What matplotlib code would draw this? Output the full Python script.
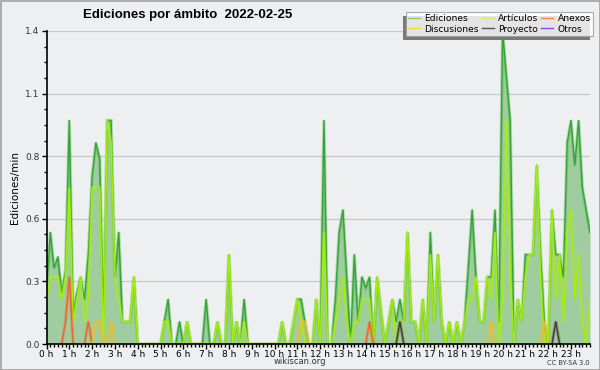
import numpy as np
import matplotlib
matplotlib.use("Agg")
import matplotlib.pyplot as plt
from matplotlib.lines import Line2D
from matplotlib.patches import Rectangle
from matplotlib.ticker import MultipleLocator

TITLE = "Ediciones por ámbito  2022-02-25"
HOUR_LABELS = [f"{h} h" for h in range(24)]

# edits per minute, 10-minute bins (144 per day)
ediciones = [
    0.23, 0.5, 0.34, 0.39, 0.23, 0.33, 1.0, 0.14, 0.23, 0.3, 0.2, 0.4,
    0.75, 0.9, 0.83, 0.12, 1.0, 1.0, 0.3, 0.5, 0.1, 0.1, 0.1, 0.3,
    0, 0, 0, 0, 0, 0, 0, 0.1, 0.2, 0, 0, 0.1,
    0, 0.1, 0, 0, 0, 0, 0.2, 0, 0, 0.1, 0, 0,
    0.4, 0, 0.1, 0, 0.2, 0, 0, 0, 0, 0, 0, 0,
    0, 0, 0.1, 0, 0, 0.1, 0.2, 0.2, 0.1, 0, 0, 0.2,
    0, 1.0, 0, 0, 0.2, 0.5, 0.6, 0.3, 0, 0.4, 0.1, 0.3,
    0.25, 0.3, 0, 0.3, 0.15, 0, 0.1, 0.2, 0.1, 0.2, 0.1, 0.5,
    0.1, 0.1, 0, 0.2, 0, 0.5, 0.1, 0.4, 0.1, 0, 0.1, 0,
    0.1, 0, 0.1, 0.35, 0.6, 0.3, 0.1, 0.1, 0.3, 0.3, 0.6, 0.1,
    1.4, 1.2, 1.0, 0, 0.2, 0.1, 0.4, 0.4, 0.4, 0.8, 0.4, 0.1,
    0, 0.6, 0.4, 0.4, 0.3, 0.9, 1.0, 0.8, 1.0, 0.7, 0.6, 0.5,
]
articulos = [
    0.2, 0.3, 0.3, 0.3, 0.2, 0.3, 0.7, 0.1, 0.2, 0.3, 0.1, 0.2,
    0.7, 0.7, 0.7, 0, 1.0, 0.9, 0.3, 0.2, 0.1, 0.1, 0.1, 0.3,
    0, 0, 0, 0, 0, 0, 0, 0.1, 0.1, 0, 0, 0,
    0, 0.1, 0, 0, 0, 0, 0, 0, 0, 0.1, 0, 0,
    0.4, 0, 0.1, 0, 0.1, 0, 0, 0, 0, 0, 0, 0,
    0, 0, 0.1, 0, 0, 0.1, 0.2, 0.1, 0, 0, 0, 0.2,
    0, 0.5, 0, 0, 0.1, 0.2, 0.3, 0.1, 0, 0.1, 0.1, 0.2,
    0.2, 0.2, 0, 0.3, 0.15, 0, 0.1, 0.2, 0, 0.1, 0.1, 0.5,
    0.1, 0.1, 0, 0.2, 0, 0.4, 0.1, 0.4, 0.1, 0, 0.1, 0,
    0.1, 0, 0.1, 0.2, 0.2, 0.3, 0.1, 0.1, 0.3, 0.2, 0.5, 0,
    0.2, 1.0, 0.3, 0, 0.2, 0.1, 0.3, 0.4, 0.4, 0.8, 0.3, 0,
    0, 0.6, 0.2, 0.4, 0.1, 0.5, 0.6, 0.2, 0.4, 0.1, 0, 0.2,
]
# sparse series: (bin, value)
anexos = [(5, 0.1), (6, 0.3), (11, 0.1), (85, 0.1)]
discusiones = [(13, 0.1), (14, 0.1), (17, 0.1), (67, 0.1), (68, 0.1),
               (117, 0.1), (131, 0.1)]
proyecto = [(93, 0.1), (134, 0.1)]
otros = []

N = len(ediciones)
hours = np.arange(N) / 6.0

def dense(pairs):
    a = np.zeros(N)
    for i, v in pairs:
        a[i] = v
    return a

BG = "#eeeff0"
C_ED, C_FILL = "#32a532", "#a0cda0"
C_ART, C_ANX, C_DIS, C_PRO, C_OTR = "#a6ee10", "#f06428", "#f0c020", "#4a3a30", "#9a40f0"

fig = plt.figure(figsize=(6, 3.7), dpi=100, facecolor=BG)
ax = fig.add_axes([46.5 / 600, 26 / 370, 543.5 / 600, 313 / 370])
ax.set_facecolor(BG)

ed = np.asarray(ediciones)
ax.fill_between(hours, 0, ed, color=C_FILL, lw=0, zorder=2)

def glow(y, c, z):
    ax.plot(hours, y, color=c, lw=2.4, alpha=0.3, zorder=z, solid_joinstyle="miter")
    ax.plot(hours, y, color=c, lw=1.0, zorder=z + 0.1)

glow(ed, C_ED, 3)
glow(np.asarray(articulos), C_ART, 4)
for pairs, c, z in [(anexos, C_ANX, 5), (discusiones, C_DIS, 5),
                    (proyecto, C_PRO, 6), (otros, C_OTR, 6)]:
    if pairs:
        y = dense(pairs)
        # only draw around the non-zero bins
        y = np.ma.masked_where(np.convolve(y, [1, 1, 1], "same") == 0, y)
        glow(y, c, z)

ymax = 1.4
ax.set_xlim(0, hours[-1])
ax.set_ylim(0, ymax)
yt = np.arange(6) * ymax / 5
ax.set_yticks(yt)
ax.set_yticklabels([f"{v:.1f}" for v in yt])
ax.yaxis.set_minor_locator(MultipleLocator(ymax / 20))
ax.set_xticks(np.arange(24))
ax.set_xticklabels(HOUR_LABELS)
ax.xaxis.set_minor_locator(MultipleLocator(1 / 6))
ax.grid(axis="y", color="#c8c8c8", lw=0.9, zorder=0)
ax.set_axisbelow(True)
for s in ["top", "right"]:
    ax.spines[s].set_visible(False)
for s in ["left", "bottom"]:
    ax.spines[s].set_linewidth(1.2)
    ax.spines[s].set_zorder(7)
ax.tick_params(which="major", length=3.5, width=1, labelsize=6.5, colors="black")
ax.tick_params(which="minor", length=2.5, width=1)
ax.tick_params(axis="x", pad=0.5)
ax.tick_params(axis="y", pad=1.5, labelcolor="#333333")
ax.set_ylabel("Ediciones/min", fontsize=7.5, labelpad=4)

fig.text(188 / 600, 1 - 15 / 370, TITLE, fontsize=9.5, fontweight="bold",
         family="Liberation Sans", ha="center", va="center")
fig.text(300 / 600, 1 - 362 / 370, "wikiscan.org", fontsize=6, ha="center", va="center",
         color="#333333")
fig.text(590 / 600, 1 - 363 / 370, "CC BY-SA 3.0", fontsize=4.8, ha="right", va="center",
         color="#333333")

labels = ["Ediciones", "Discusiones", "Artículos", "Proyecto", "Anexos", "Otros"]
colors = ["#80cc80", "#f4d050", "#cdee70", "#555555", "#f08050", "#9a40f0"]
handles = [Line2D([0], [0], color=c, lw=1, label=l) for l, c in zip(labels, colors)]
leg = fig.legend(handles=handles, ncol=3, loc="upper right",
                 bbox_to_anchor=(593 / 600, 1 - 12 / 370), fontsize=6.6,
                 frameon=True, fancybox=False, handlelength=1.3, handletextpad=0.5,
                 columnspacing=0.3, labelspacing=0.15, borderpad=0.25,
                 borderaxespad=0)
leg.get_frame().set_edgecolor("#999999")
leg.get_frame().set_linewidth(0.8)
leg.set_zorder(10)

fig.canvas.draw()
bb = leg.get_window_extent().transformed(fig.transFigure.inverted())
fig.patches.append(Rectangle((bb.x0 - 3 / 600, bb.y0 - 4 / 370), bb.width, bb.height,
                             transform=fig.transFigure, facecolor="#7a7a7a",
                             edgecolor="none", zorder=9))
fig.patches.append(Rectangle((0.5 / 600, 0.5 / 370), 599 / 600, 369 / 370,
                             transform=fig.transFigure, facecolor="none",
                             edgecolor="#a0a0a0", lw=1.2, zorder=11))

fig.savefig("out.png", dpi=100, facecolor=BG)
